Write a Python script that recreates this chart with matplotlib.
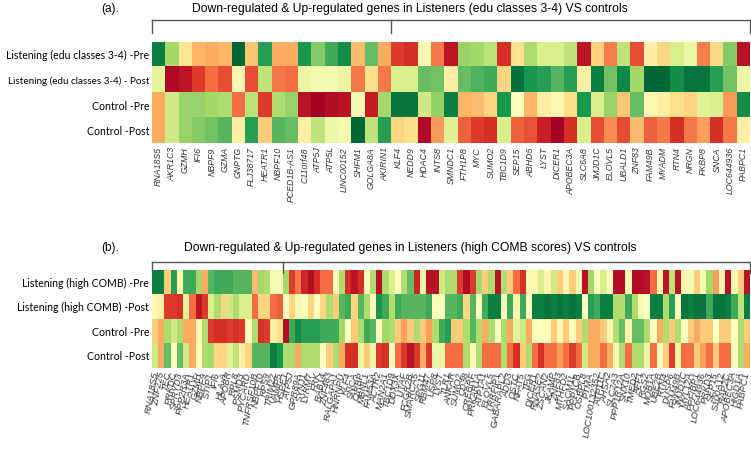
import matplotlib.pyplot as plt
import numpy as np

W, H = 751, 470

# ---------- panel (a) ----------
rows_a = ['Listening (edu classes 3-4) -Pre', 'Listening (edu classes 3-4) - Post',
          'Control -Pre', 'Control -Post']
genes_a = ['RNA18S5', 'AKR1C3', 'GZMH', 'IFI6', 'NBPF9', 'GZMA', 'GNPTG', 'FLJ38717',
           'HEATR1', 'NBPF10', 'PCED1B-AS1', 'C11orf48', 'ATP5J', 'ATP5L', 'LINC00152',
           'SHFM1', 'GOLGA8A', 'AKIRIN1', 'KLF4', 'NEDD9', 'HDAC4', 'INTS8', 'SMNDC1',
           'FTH1P8', 'MYC', 'SUMO2', 'TBC1D9', 'SEP15', 'ABHD5', 'LYST', 'DICER1',
           'APOBEC3A', 'SLC6A8', 'JMJD1C', 'ELOVL5', 'UBALD1', 'ZNF83', 'FAM49B',
           'MYADM', 'RTN4', 'NRGN', 'FKBP8', 'SNCA', 'LOC644936', 'PABPC1']
n_down_a = 18
a_pre = [0.95, 0.7, 0.42, 0.32, 0.3, 0.32, 1.0, 0.35, 0.88, 0.3, 0.3, 0.9, 0.75, 0.85, 0.92,
         0.33, 0.8, 0.3, 0.12, 0.1, 0.48, 0.22, 0.05, 0.72, 0.7, 0.66, 0.1, 0.41, 0.68, 0.6,
         0.6, 0.65, 0.05, 0.37, 0.23, 0.65, 0.15, 0.45, 0.38, 0.6, 0.55, 0.23, 0.39, 0.75, 0.04]
a_post = [0.57, 0.02, 0.05, 0.12, 0.2, 0.15, 0.47, 0.15, 0.65, 0.22, 0.2, 0.55, 0.53, 0.53, 0.55,
          0.22, 0.4, 0.22, 0.6, 0.6, 0.8, 0.78, 0.45, 0.8, 0.83, 0.85, 0.38, 0.98, 0.9, 0.88,
          0.82, 0.88, 0.45, 0.95, 0.78, 0.93, 0.7, 1.0, 1.0, 0.92, 0.97, 0.97, 0.88, 0.78, 0.55]
c_pre = [0.3, 0.62, 0.72, 0.72, 0.7, 0.68, 0.2, 0.66, 0.12, 0.68, 0.72, 0.04, 0.0, 0.03, 0.04,
         0.52, 0.06, 0.7, 0.97, 0.97, 0.62, 0.73, 0.95, 0.32, 0.33, 0.38, 0.9, 0.5, 0.32, 0.45,
         0.48, 0.4, 0.9, 0.6, 0.72, 0.35, 0.8, 0.47, 0.45, 0.4, 0.38, 0.58, 0.6, 0.27, 0.92]
c_post = [0.3, 0.62, 0.72, 0.75, 0.78, 0.82, 0.45, 0.88, 0.36, 0.82, 0.8, 0.45, 0.65, 0.55, 0.53,
          1.0, 0.65, 0.88, 0.38, 0.4, 0.02, 0.27, 0.58, 0.18, 0.12, 0.1, 0.6, 0.18, 0.16, 0.07,
          0.0, 0.1, 0.6, 0.15, 0.25, 0.15, 0.33, 0.18, 0.22, 0.1, 0.22, 0.28, 0.1, 0.22, 0.45]

# ---------- panel (b) ----------
rows_b = ['Listening (high COMB) -Pre', 'Listening (high COMB) -Post',
          'Control -Pre', 'Control -Post']
genes_b = ['RNA18S5', 'ZNF225', 'TEC', 'PRKDC', 'SPRYD3', 'PPP2R3A', 'HEATR1', 'GZMH',
           'NBPF9', 'STIP1', 'IFI6', 'HLA-A', 'APOBR', 'RPL8', 'PSMD3', 'PYCARD',
           'TNFRSF10B', 'NBPF10', 'RPS9', 'TRIM22', 'VAMP5',
           'HSPE1', 'ATP5J', 'GPR89A', 'SYNJ1', 'LYRM7', 'FRK', 'RAB14', 'ZNF483',
           'RALGAPA1', 'HNRNPU', 'KLF4', 'SNCA', 'CIRBP', 'MBNL1', 'FAM53A', 'ACTR2',
           'MAN2A1', 'TBC1D9', 'DDX3X', 'LITAF', 'FCGR2B', 'SMARCA5', 'SPG11', 'RBM47',
           'USP8', 'LYST', 'TLR1', 'ANKAR', 'SUMO2', 'CD38', 'CREBRF', 'PRKAR1A', 'ATP1A1',
           'ELOVL5', 'LRRFIP1', 'GABARAPL2', 'ADD3', 'OSTC', 'NFAT5', 'TFG', 'DICER1',
           'RNASE2', 'ZSCAN2', 'JKAMP', 'ZNF83', 'MTHFD2', 'SACM1L', 'PPP1CB', 'OSBPL8',
           'PTMA', 'LOC100132352', 'ATP11C', 'AHSA2', 'SLC2A3', 'PPP1R12A', 'SNX10',
           'TMED2', 'AFF1', 'RGS2', 'MOB1A', 'UBE2B', 'RTN4', 'DUSP6', 'FAM49B', 'JMJD1C',
           'MYL12A', 'PPFIBP1', 'LOC644936', 'PRKD3', 'SEP15', 'S100A12', 'RAP2C',
           'APOBEC3A', 'HIGD1A', 'PABPC1']
n_down_b = 21
b_pre = [0.95, 0.95, 0.36, 0.88, 0.47, 0.85, 0.85, 0.7, 0.3, 0.82, 0.85, 0.85, 0.85, 0.82, 0.82,
         0.82, 0.33, 0.7, 0.68, 0.52, 0.52, 0.7, 0.12, 0.22,
         0.08, 0.03, 0.1, 0.2, 0.2, 0.5, 0.68, 0.1, 0.04, 0.1, 0.5, 0.68, 0.04, 0.68, 0.6, 0.5,
         0.68, 0.8, 0.08, 0.55, 0.04, 0.04, 0.62, 0.68,
         0.68, 0.12, 0.03, 0.12, 0.7, 0.36, 0.68, 0.04, 0.68, 0.36, 0.2, 0.1, 0.52, 0.47, 0.6,
         0.47, 0.62, 0.36, 0.47, 0.36, 0.52, 0.04, 0.7, 0.5,
         0.6, 0.5, 0.03, 0.03, 0.52, 0.03, 0.03, 0.04, 0.2, 0.47, 0.04, 0.65, 0.04, 0.47, 0.52,
         0.36, 0.52, 0.7, 0.28, 0.47, 0.04, 0.52, 0.36, 0.04]
b_post = [0.48, 0.45, 0.12, 0.12, 0.1, 0.58, 0.2, 0.05, 0.12, 0.6, 0.68, 0.38, 0.62, 0.68, 0.6,
          0.6, 0.2, 0.38, 0.38, 0.2, 0.18, 0.5, 0.38, 0.52,
          0.5, 0.38, 0.5, 0.38, 0.68, 0.36, 0.82, 0.85, 0.38, 0.82, 0.68, 0.5, 0.9, 0.85, 0.68,
          0.85, 0.82, 0.82, 0.82, 0.82, 0.85, 0.5, 0.5, 0.82,
          0.82, 0.85, 0.38, 0.82, 0.5, 0.85, 0.95, 0.95, 0.5, 0.85, 0.47, 0.85, 0.5, 0.95, 0.95,
          0.97, 0.95, 0.97, 0.95, 0.97, 0.95, 0.5, 0.88, 0.85,
          0.95, 0.95, 0.68, 0.68, 0.85, 0.68, 0.52, 0.5, 0.95, 0.95, 0.68, 0.88, 0.5, 0.97, 0.95,
          0.97, 0.97, 0.85, 0.97, 0.97, 0.95, 0.85, 0.65, 0.95]
bc_pre = [0.36, 0.3, 0.68, 0.62, 0.68, 0.3, 0.3, 0.48, 0.68, 0.12, 0.1, 0.1, 0.12, 0.1, 0.12,
          0.5, 0.68, 0.1, 0.12, 0.45, 0.4, 0.03, 0.85, 0.92,
          0.88, 0.88, 0.88, 0.85, 0.85, 0.85, 0.7, 0.5, 0.36, 0.68, 0.85, 0.82, 0.5, 0.7, 0.68,
          0.36, 0.28, 0.36, 0.68, 0.36, 0.28, 0.68, 0.85, 0.88,
          0.36, 0.36, 0.68, 0.82, 0.68, 0.3, 0.68, 0.5, 0.68, 0.3, 0.58, 0.62, 0.3, 0.5, 0.5,
          0.5, 0.36, 0.47, 0.36, 0.5, 0.36, 0.68, 0.3, 0.3,
          0.36, 0.47, 0.68, 0.8, 0.47, 0.8, 0.8, 0.68, 0.5, 0.3, 0.68, 0.36, 0.68, 0.5, 0.36,
          0.3, 0.36, 0.36, 0.5, 0.36, 0.36, 0.5, 0.68, 0.36]
bc_post = [0.62, 0.3, 0.8, 0.5, 0.8, 0.62, 0.3, 0.5, 0.68, 0.7, 0.38, 0.38, 0.58, 0.65, 0.45,
           0.38, 0.82, 0.82, 0.82, 0.95, 0.9, 0.68, 0.68, 0.3,
           0.68, 0.68, 0.68, 0.5, 0.36, 0.68, 0.3, 0.1, 0.1, 0.55, 0.36, 0.55, 0.12, 0.1, 0.5,
           0.2, 0.12, 0.04, 0.12, 0.3, 0.12, 0.55, 0.55, 0.2,
           0.2, 0.2, 0.68, 0.48, 0.68, 0.2, 0.2, 0.2, 0.68, 0.2, 0.1, 0.36, 0.68, 0.2, 0.1,
           0.2, 0.2, 0.28, 0.2, 0.12, 0.2, 0.62, 0.3, 0.3,
           0.2, 0.3, 0.48, 0.68, 0.2, 0.68, 0.68, 0.55, 0.2, 0.5, 0.36, 0.12, 0.55, 0.2, 0.2,
           0.36, 0.28, 0.2, 0.36, 0.2, 0.2, 0.5, 0.68, 0.3]


def box(x0, y0, x1, y1):
    # pixel box -> figure fraction
    return [x0 / W, 1 - y1 / H, (x1 - x0) / W, (y1 - y0) / H]


def heat(ax, data, rows, genes, n_down, rot, top_px, bot_px, tick_px, fs):
    ax.imshow(np.array(data), cmap='RdYlGn', vmin=0, vmax=1, aspect='auto',
              interpolation='nearest')
    ax.set_xticks(range(len(genes)))
    ax.set_xticklabels(genes, rotation=rot, fontsize=fs, style='italic',
                       family='Liberation Sans', color='#333333',
                       ha='right', va='center', rotation_mode='anchor')
    ax.set_yticks(range(len(rows)))
    ax.set_yticklabels(rows, fontsize=7.6, family='Lato')
    ax.tick_params(length=0, pad=3)
    ax.tick_params(axis='y', pad=2)
    for s in ax.spines.values():
        s.set_visible(False)
    # bracket above the heatmap
    h = bot_px - top_px
    yt = 1 + tick_px[0] / h
    yb = 1 + tick_px[1] / h
    n = len(genes)
    tr = ax.get_xaxis_transform()
    kw = dict(transform=tr, clip_on=False, color='#555555', lw=1.0)
    ax.plot([-0.5, n - 0.5], [yt, yt], **kw)
    for x in [-0.5, n_down - 0.5, n - 0.5]:
        ax.plot([x, x], [yt, yb], **kw)


fig = plt.figure(figsize=(W / 100, H / 100), dpi=100)

# (a)
ax1 = fig.add_axes(box(152, 42, 750, 143))
heat(ax1, [a_pre, a_post, c_pre, c_post], rows_a, genes_a, n_down_a, 90, 42, 143, (22, 9), 6.3)
ax1.get_yticklabels()[1].set_fontsize(7.1)
fig.text(110 / W, 1 - 9 / H, '(a).', fontsize=8.5, family='Liberation Sans',
         ha='center', va='center')
fig.text(410 / W, 1 - 9 / H,
         'Down-regulated & Up-regulated genes in Listeners (edu classes 3-4) VS controls',
         fontsize=8.7, family='Liberation Sans', ha='center', va='center')

# (b)
ax2 = fig.add_axes(box(152, 270, 750, 368))
heat(ax2, [b_pre, b_post, bc_pre, bc_post], rows_b, genes_b, n_down_b, 80, 270, 368, (8, -3), 6.8)
fig.text(110 / W, 1 - 248 / H, '(b).', fontsize=8.5, family='Liberation Sans',
         ha='center', va='center')
fig.text(410 / W, 1 - 248 / H,
         'Down-regulated & Up-regulated genes in Listeners (high COMB scores) VS controls',
         fontsize=8.7, family='Liberation Sans', ha='center', va='center')

fig.savefig('out.png', dpi=100)
